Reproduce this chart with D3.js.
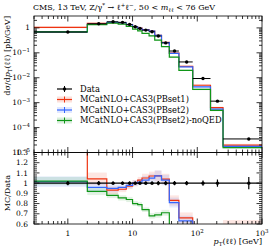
<!DOCTYPE html>
<html>
  <head>
    <style>
      body { margin: 0; background: #fff; }
      svg text { font-family: "DejaVu Serif", serif; fill: #000; }
    </style>
  </head>
  <body>
    <div id="main-viz"></div>
    <script src="https://d3js.org/d3.v7.min.js"></script>
    <script>

    // bin edges in pT(ll) [GeV]
    var edges = [0, 2, 4, 6, 8, 10, 12, 14, 18, 22, 28, 37, 52, 85, 160, 250, 1000];

    // measured dsigma/dpT [pb/GeV] and relative uncertainty
    var dataVals = [0.68, 1.46, 1.76, 1.67, 1.38, 1.11, 0.955, 0.815, 0.70, 0.47, 0.25, 0.118, 0.043, 0.0093, 0.00115, 0.000035];
    var dataErr  = [0.02, 0.02, 0.015, 0.015, 0.015, 0.015, 0.015, 0.015, 0.015, 0.02, 0.02, 0.02, 0.02, 0.025, 0.035, 0.06];

    // predictions [pb/GeV]
    var pbset1  = [1.05, 1.52, 1.64, 1.57, 1.34, 1.11, 0.984, 0.856, 0.749, 0.503, 0.26, 0.098, 0.0284, 0.0050, 0.00063, 0.0000196];
    var pbset2  = [0.69, 1.40, 1.67, 1.60, 1.35, 1.11, 0.965, 0.839, 0.735, 0.503, 0.2575, 0.0956, 0.0271, 0.00428, 0.00055, 0.0000175];
    var noqed   = [0.694, 1.343, 1.549, 1.428, 1.159, 0.888, 0.754, 0.603, 0.476, 0.324, 0.1775, 0.0673, 0.0198, 0.00344, 0.00049, 0.0000158];

    // relative band half widths
    var unc1 = [0.08, 0.06, 0.04, 0.03, 0.03, 0.03, 0.03, 0.04, 0.04, 0.05, 0.05, 0.06, 0.08, 0.12, 0.10, 0.14];
    var unc2 = [0.05, 0.05, 0.04, 0.03, 0.03, 0.03, 0.03, 0.04, 0.04, 0.05, 0.05, 0.06, 0.08, 0.10, 0.10, 0.12];
    var unc3 = [0.04, 0.04, 0.03, 0.03, 0.03, 0.03, 0.03, 0.03, 0.04, 0.04, 0.04, 0.05, 0.06, 0.08, 0.08, 0.10];

    var seriesNames = ["MCatNLO+CAS3(PBset1)", "MCatNLO+CAS3(PBset2)", "MCatNLO+CAS3(PBset2)-noQED"];
    var seriesColors = ["#ee3311", "#3366ff", "#109618"];

    var yMainTicks = [1, 1e-1, 1e-2, 1e-3, 1e-4, 1e-5];
    var yRatioTicks = [0.6, 0.7, 0.8, 0.9, 1, 1.1, 1.2, 1.3];
    var xTicks = [1, 10, 100, 1000];

    var series = [
      {name: seriesNames[0], color: seriesColors[0], vals: pbset1, unc: unc1},
      {name: seriesNames[1], color: seriesColors[1], vals: pbset2, unc: unc2},
      {name: seriesNames[2], color: seriesColors[2], vals: noqed,  unc: unc3}
    ];

    var W = 272, H = 246;
    var pLeft = 34, pRight = 262, pTop = 16, pMid = 152.5, pBottom = 224;

    var svg = d3.select("#main-viz")
      .append("svg")
        .attr("width", W)
        .attr("height", H);

    var x = d3.scaleLog().domain([0.3, 1000]).range([pLeft, pRight]);
    var y = d3.scaleLog().domain([1e-5, 3]).range([pMid, pTop]);
    var yr = d3.scaleLinear().domain([0.6, 1.3]).range([pBottom, pMid]);

    var defs = svg.append("defs");
    defs.append("clipPath").attr("id", "clipMain")
      .append("rect").attr("x", pLeft).attr("y", pTop).attr("width", pRight - pLeft).attr("height", pMid - pTop);
    defs.append("clipPath").attr("id", "clipRatio")
      .append("rect").attr("x", pLeft).attr("y", pMid).attr("width", pRight - pLeft).attr("height", pBottom - pMid);

    function xe(e) { return x(Math.max(e, 0.3)); }
    function xc(i) { return x((edges[i] + edges[i + 1]) / 2); }

    function stepPath(vals, yscale) {
      var pts = vals.map(function(v, i) { return [xe(edges[i]), yscale(v)]; });
      pts.push([xe(edges[edges.length - 1]), yscale(vals[vals.length - 1])]);
      return d3.line().curve(d3.curveStepAfter)(pts);
    }

    var gMain = svg.append("g").attr("clip-path", "url(#clipMain)");
    var gRatio = svg.append("g").attr("clip-path", "url(#clipRatio)");

    // bands
    series.forEach(function(s) {
      gMain.append("g").selectAll("rect")
        .data(s.vals)
        .enter()
        .append("rect")
          .attr("x", function(d, i) { return xe(edges[i]); })
          .attr("width", function(d, i) { return xe(edges[i + 1]) - xe(edges[i]); })
          .attr("y", function(d, i) { return y(d * (1 + s.unc[i])); })
          .attr("height", function(d, i) { return y(d * (1 - s.unc[i])) - y(d * (1 + s.unc[i])); })
          .style("fill", s.color)
          .style("opacity", 0.12);

      gRatio.append("g").selectAll("rect")
        .data(s.vals)
        .enter()
        .append("rect")
          .attr("x", function(d, i) { return xe(edges[i]); })
          .attr("width", function(d, i) { return xe(edges[i + 1]) - xe(edges[i]); })
          .attr("y", function(d, i) { return yr(d / dataVals[i] * (1 + s.unc[i])); })
          .attr("height", function(d, i) { return yr(d / dataVals[i] * (1 - s.unc[i])) - yr(d / dataVals[i] * (1 + s.unc[i])); })
          .style("fill", s.color)
          .style("opacity", 0.12);
    });

    // lines
    series.forEach(function(s) {
      gMain.append("path")
        .attr("d", stepPath(s.vals, y))
        .style("fill", "none")
        .style("stroke", s.color)
        .style("stroke-width", 1.2);

      var ratio = s.vals.map(function(v, i) { return v / dataVals[i]; });
      gRatio.append("path")
        .attr("d", stepPath(ratio, yr))
        .style("fill", "none")
        .style("stroke", s.color)
        .style("stroke-width", 1.2);
    });

    // data in main panel
    var gData = gMain.append("g");
    dataVals.forEach(function(d, i) {
      gData.append("line")
        .attr("x1", xe(edges[i])).attr("x2", xe(edges[i + 1]))
        .attr("y1", y(d)).attr("y2", y(d))
        .style("stroke", "#000").style("stroke-width", 1);
      gData.append("line")
        .attr("x1", xc(i)).attr("x2", xc(i))
        .attr("y1", y(d * (1 - dataErr[i]))).attr("y2", y(d * (1 + dataErr[i])))
        .style("stroke", "#000").style("stroke-width", 1);
      gData.append("circle")
        .attr("cx", xc(i)).attr("cy", y(d)).attr("r", 1.7)
        .style("fill", "#000");
    });

    // data in ratio panel
    gRatio.append("line")
      .attr("x1", pLeft).attr("x2", pRight)
      .attr("y1", yr(1)).attr("y2", yr(1))
      .style("stroke", "#000").style("stroke-width", 1.2);
    dataVals.forEach(function(d, i) {
      gRatio.append("line")
        .attr("x1", xc(i)).attr("x2", xc(i))
        .attr("y1", yr(1 - dataErr[i])).attr("y2", yr(1 + dataErr[i]))
        .style("stroke", "#000").style("stroke-width", 1.2);
      gRatio.append("circle")
        .attr("cx", xc(i)).attr("cy", yr(1)).attr("r", 1.7)
        .style("fill", "#000");
    });

    // ticks
    var xMinor = [];
    [0.1, 1, 10, 100].forEach(function(dec) {
      for (var k = 2; k <= 9; k++) {
        var v = dec * k;
        if (v > 0.3 && v < 1000) xMinor.push(v);
      }
    });
    var yMinor = [];
    [1e-5, 1e-4, 1e-3, 1e-2, 1e-1, 1].forEach(function(dec) {
      for (var k = 2; k <= 9; k++) {
        if (dec * k < 3) yMinor.push(dec * k);
      }
    });
    var yrMinor = d3.range(0.62, 1.3, 0.02).filter(function(v) {
      return Math.abs(v * 10 - Math.round(v * 10)) > 0.01;
    });

    var tk = svg.append("g").style("stroke", "#000").style("stroke-width", 0.8);
    function tick(x1, y1, x2, y2) {
      tk.append("line").attr("x1", x1).attr("y1", y1).attr("x2", x2).attr("y2", y2);
    }
    [[pTop, 1], [pMid, -1], [pMid, 1], [pBottom, -1]].forEach(function(p) {
      xTicks.forEach(function(v) { tick(x(v), p[0], x(v), p[0] + p[1] * 5.5); });
      xMinor.forEach(function(v) { tick(x(v), p[0], x(v), p[0] + p[1] * 3); });
    });
    [[pLeft, 1], [pRight, -1]].forEach(function(p) {
      yMainTicks.forEach(function(v) { tick(p[0], y(v), p[0] + p[1] * 5.5, y(v)); });
      yMinor.forEach(function(v) { tick(p[0], y(v), p[0] + p[1] * 3, y(v)); });
      yRatioTicks.forEach(function(v) { tick(p[0], yr(v), p[0] + p[1] * 5.5, yr(v)); });
      yrMinor.forEach(function(v) { tick(p[0], yr(v), p[0] + p[1] * 3, yr(v)); });
    });

    // frames
    svg.append("rect").attr("x", pLeft).attr("y", pTop).attr("width", pRight - pLeft).attr("height", pMid - pTop)
      .style("fill", "none").style("stroke", "#000").style("stroke-width", 0.8);
    svg.append("rect").attr("x", pLeft).attr("y", pMid).attr("width", pRight - pLeft).attr("height", pBottom - pMid)
      .style("fill", "none").style("stroke", "#000").style("stroke-width", 0.8);

    // tick labels
    var fs = 7.5;
    yMainTicks.forEach(function(v) {
      var t = svg.append("text")
        .attr("x", 30).attr("y", y(v) + 2.6)
        .attr("text-anchor", "end")
        .style("font-size", fs + "px");
      if (v === 1) {
        t.text("1");
      } else {
        t.append("tspan").text("10");
        t.append("tspan").attr("dy", -3).style("font-size", "5.5px").text("\u2212" + Math.round(-Math.log10(v)));
      }
    });
    yRatioTicks.forEach(function(v) {
      svg.append("text")
        .attr("x", 28).attr("y", yr(v) + 2.6)
        .attr("text-anchor", "end")
        .style("font-size", fs + "px")
        .text(v === 1 ? "1" : d3.format(".1f")(v));
    });
    xTicks.forEach(function(v) {
      var t = svg.append("text")
        .attr("x", x(v)).attr("y", 236)
        .attr("text-anchor", "middle")
        .style("font-size", fs + "px");
      if (v < 100) {
        t.text(String(v));
      } else {
        t.append("tspan").text("10");
        t.append("tspan").attr("dy", -3).style("font-size", "5.5px").text(Math.round(Math.log10(v)));
      }
    });

    // axis titles
    var xl = svg.append("text")
      .attr("x", pRight).attr("y", 244)
      .attr("text-anchor", "end")
      .style("font-size", "8px");
    xl.append("tspan").style("font-style", "italic").text("p");
    xl.append("tspan").attr("dy", 1.5).style("font-size", "5.5px").text("T");
    xl.append("tspan").attr("dy", -1.5).text("(\u2113\u2113) [GeV]");

    var yl = svg.append("text")
      .attr("transform", "translate(10," + pTop + ") rotate(-90)")
      .attr("text-anchor", "end")
      .style("font-size", "8px");
    yl.append("tspan").text("d\u03c3/d");
    yl.append("tspan").style("font-style", "italic").text("p");
    yl.append("tspan").attr("dy", 1.5).style("font-size", "5.5px").text("T");
    yl.append("tspan").attr("dy", -1.5).text("(\u2113\u2113) [pb/GeV]");

    svg.append("text")
      .attr("transform", "translate(10,175) rotate(-90)")
      .attr("text-anchor", "end")
      .style("font-size", "8px")
      .text("MC/Data");

    // title
    var tt = svg.append("text")
      .attr("x", pLeft - 1).attr("y", 10)
      .style("font-size", "8px");
    tt.append("tspan").text("CMS, 13 TeV, Z/\u03b3");
    tt.append("tspan").attr("dy", -3).style("font-size", "5.5px").text("*");
    tt.append("tspan").attr("dy", 3).text(" \u2192 \u2113");
    tt.append("tspan").attr("dy", -3).style("font-size", "5.5px").text("+");
    tt.append("tspan").attr("dy", 3).text("\u2113");
    tt.append("tspan").attr("dy", -3).style("font-size", "5.5px").text("\u2212");
    tt.append("tspan").attr("dy", 3).text(", 50 < ");
    tt.append("tspan").style("font-style", "italic").text("m");
    tt.append("tspan").attr("dy", 1.5).style("font-size", "5.5px").text("\u2113\u2113");
    tt.append("tspan").attr("dy", -1.5).text(" < 76 GeV");

    // legend
    var legRows = [{name: "Data", color: "#000"}].concat(series);
    var lg = svg.append("g");
    legRows.forEach(function(r, i) {
      var ly = 89 + i * 10.5;
      if (i > 0) {
        lg.append("rect").attr("x", 57).attr("y", ly - 3).attr("width", 15).attr("height", 6)
          .style("fill", r.color).style("opacity", 0.15);
      }
      lg.append("line").attr("x1", 57).attr("x2", 72).attr("y1", ly).attr("y2", ly)
        .style("stroke", r.color).style("stroke-width", 1.2);
      lg.append("line").attr("x1", 64.5).attr("x2", 64.5).attr("y1", ly - 3).attr("y2", ly + 3)
        .style("stroke", r.color).style("stroke-width", 1);
      if (i === 0) {
        lg.append("circle").attr("cx", 64.5).attr("cy", ly).attr("r", 1.7).style("fill", "#000");
      }
      lg.append("text")
        .attr("x", 80).attr("y", ly + 2.8)
        .style("font-size", "8.3px")
        .text(r.name);
    });

    </script>
  </body>
</html>
